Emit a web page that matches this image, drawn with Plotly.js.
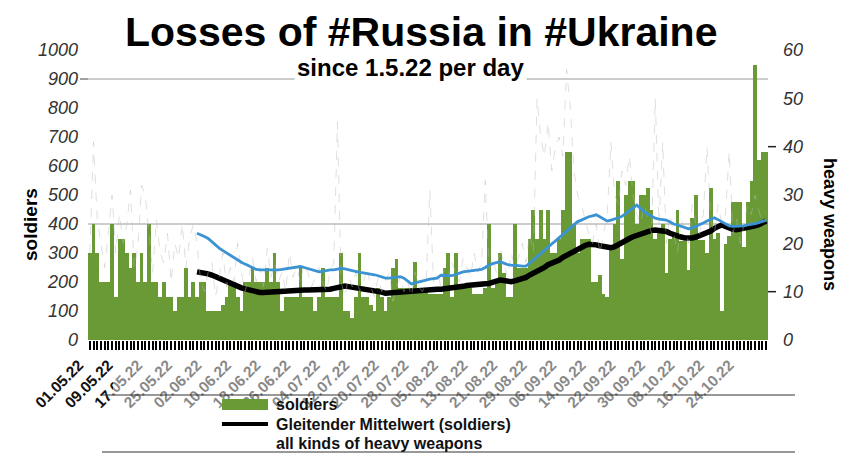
<!DOCTYPE html>
<html><head><meta charset="utf-8">
<script src="https://cdn.plot.ly/plotly-3.0.1.min.js"></script>
<style>html,body{margin:0;padding:0;background:#fff}#chart{width:850px;height:476px}</style>
</head><body><div id="chart"></div>
<script>
// ---- data ----
const startDate = [2022, 4, 1]; // 01.05.22 (month 0-based)
const dayCount = 184;
const labelEveryDays = 8;
const soldiers = [
  300,400,300,200,200,200,400,150,350,350,
  300,250,300,200,300,200,400,200,200,150,
  200,150,150,100,150,150,250,150,200,150,
  200,200,100,100,100,100,120,150,200,200,
  150,100,200,200,250,200,200,200,250,200,
  300,200,100,150,150,150,150,250,150,150,
  150,100,150,250,150,150,150,150,300,100,
  100,75,150,300,150,150,120,100,180,150,
  100,150,250,280,180,180,180,180,270,180,
  180,180,160,160,160,160,250,300,150,300,
  180,180,180,180,160,160,160,180,400,180,
  200,300,230,150,150,400,250,250,250,350,
  450,350,450,350,450,300,300,350,450,650,
  650,400,300,350,350,350,200,200,225,160,
  150,320,400,550,280,500,550,550,400,500,
  500,525,450,350,370,400,230,350,370,450,
  340,340,240,420,500,345,345,300,525,350,
  370,100,330,360,475,475,475,320,475,550,
  950,620,650,650
];
const heavyWeapons = [
  18,41,25,20,15,22,30,18,26,20,
  24,31,15,19,32,30,22,14,25,18,
  16,22,12,20,17,24,15,21,24,20,
  12,10,14,16,9,13,18,11,15,12,
  20,14,10,13,17,12,15,11,19,13,
  16,12,14,10,18,13,15,12,16,14,
  11,13,15,12,10,14,16,45,12,9,
  13,11,14,10,12,15,11,9,13,10,
  12,14,8,11,13,10,12,9,14,11,
  10,12,31,12,14,11,15,13,16,14,
  12,17,15,13,18,14,16,33,15,17,
  14,19,16,13,18,15,17,20,16,22,
  18,50,42,38,45,35,40,42,38,56,
  48,35,30,28,25,22,20,24,18,22,
  26,41,30,28,35,32,38,30,26,24,
  28,25,22,50,24,41,20,26,22,18,
  25,23,20,28,24,22,26,40,25,22,
  28,24,26,39,22,25,20,24,28,26,
  30,27,24,25
];
const avgStartIndex = 29;
const avgSoldiers = [
  235,234,232,228,224,218,213,208,203,198,
  191,184,180,176,172,169,166,164,164,165,
  166,168,169,170,170,170,171,172,172,172,
  172,172,171,171,172,173,175,178,182,186,
  186,184,182,180,179,178,177,175,172,170,
  165,161,162,164,167,168,169,170,171,172,
  173,174,176,176,176,175,175,176,177,178,
  180,182,185,188,190,191,192,193,194,195,
  199,203,207,205,202,201,204,207,210,216,
  224,230,236,241,250,260,264,268,276,285,
  292,298,305,312,322,326,330,330,328,325,
  322,320,318,322,330,338,345,350,356,361,
  366,371,376,378,379,378,376,374,368,362,
  358,355,352,350,352,355,360,364,368,376,
  385,392,397,392,385,382,380,382,385,388,
  390,394,398,404,410
];
const avgHeavy = [
  22.1,21.8,21.4,21.0,20.3,19.7,19.0,18.5,18.0,17.5,
  17.0,16.5,16.1,15.7,15.3,15.0,14.6,14.5,14.5,14.5,
  14.4,14.5,14.5,14.6,14.7,14.8,14.9,15.1,15.2,15.0,
  14.8,14.6,14.4,14.1,14.2,14.4,14.5,14.5,14.6,14.8,
  14.7,14.5,14.3,14.2,14.0,13.9,13.8,13.6,13.5,13.3,
  13.0,12.8,12.8,12.9,13.0,13.1,12.8,12.2,11.6,11.8,
  12.0,12.2,12.5,12.6,12.7,12.8,13.4,13.3,13.3,13.3,
  13.6,13.8,14.1,14.2,14.3,14.4,14.5,14.6,15.0,15.5,
  15.8,16.0,16.2,15.9,15.6,15.5,15.5,15.4,15.3,15.3,
  15.9,16.6,17.3,18.0,18.7,19.4,19.9,20.5,21.2,21.8,
  22.4,23.2,24.0,24.5,24.8,25.2,25.5,25.7,25.9,25.5,
  25.0,24.6,24.8,25.0,25.3,25.6,26.2,26.8,27.4,27.9,
  27.2,26.5,26.0,25.6,25.2,25.0,24.9,24.8,24.4,24.0,
  23.8,23.5,23.2,23.0,23.2,23.5,23.8,24.2,24.6,25.0,
  25.3,24.9,24.5,24.0,23.6,23.5,23.5,23.5,23.6,23.8,
  23.9,24.1,24.3,24.5,24.8
];
const leftGridValues = [900, 400];
const rightTickMarks = [40, 10];
const titleText = 'Losses of #Russia in #Ukraine';
const subtitleText = 'since 1.5.22 per day';
const legendLabels = ['soldiers', 'Gleitender Mittelwert (soldiers)', 'all kinds of heavy weapons'];
const leftAxisTitle = 'soldiers';
const rightAxisTitle = 'heavy weapons';

// ---- build ----
const DAY = 86400000;
const t0 = Date.UTC(startDate[0], startDate[1], startDate[2]);
function iso(ms){ return new Date(ms).toISOString().slice(0,10); }
const dates = [];
for (let i = 0; i < dayCount; i++) dates.push(iso(t0 + i*DAY));
const avgDates = dates.slice(avgStartIndex, avgStartIndex + avgSoldiers.length);

const GREEN = '#699a36';
const FONT = '"Liberation Sans", Arial, sans-serif';

const traces = [
  {type:'bar', x:dates, y:soldiers, marker:{color:GREEN, line:{width:0}}, yaxis:'y', hoverinfo:'skip'},
  {type:'scatter', mode:'lines', x:avgDates, y:avgSoldiers, line:{color:'#000', width:5.5}, yaxis:'y'},
  {type:'scatter', mode:'lines', x:dates, y:heavyWeapons, line:{color:'rgba(185,185,185,0.45)', width:1, dash:'dash'}, yaxis:'y2'},
  {type:'scatter', mode:'lines', x:avgDates, y:avgHeavy, line:{color:'#3b93d3', width:2.8}, yaxis:'y2'}
];

// pixel -> paper helpers (plot area: x 88..768, y 50..340)
const px = p => (p - 88) / 680;
const py = p => (340 - p) / 290;

const shapes = [];
leftGridValues.forEach(v => shapes.push({type:'line', xref:'paper', yref:'y', x0:0, x1:1, y0:v, y1:v, line:{color:'#9a9a9a', width:1}, layer:'below'}));
shapes.push({type:'line', xref:'paper', yref:'y', x0:px(80), x1:px(88), y0:leftGridValues[0], y1:leftGridValues[0], line:{color:'#444', width:1}, layer:'above'});
rightTickMarks.forEach(v => shapes.push({type:'line', xref:'paper', yref:'y2', x0:px(768), x1:px(776), y0:v, y1:v, line:{color:'#222', width:1.5}, layer:'above'}));
shapes.push(
  {type:'rect', xref:'paper', yref:'paper', x0:px(113), x1:px(795), y0:py(350), y1:py(452), fillcolor:'rgba(255,255,255,0.5)', line:{width:0}, layer:'above'},
  {type:'line', xref:'paper', yref:'paper', x0:px(102), x1:px(795), y0:py(395), y1:py(395), line:{color:'#333', width:1.2}, layer:'above'},
  {type:'line', xref:'paper', yref:'paper', x0:px(102), x1:px(795), y0:py(452), y1:py(452), line:{color:'#333', width:1.2}, layer:'above'},
  {type:'rect', xref:'paper', yref:'paper', x0:px(222), x1:px(268), y0:py(410), y1:py(399), fillcolor:GREEN, line:{width:0}, layer:'above'},
  {type:'line', xref:'paper', yref:'paper', x0:px(222), x1:px(268), y0:py(424), y1:py(424), line:{color:'#000', width:4}, layer:'above'}
);

const annotations = [
  {xref:'paper', yref:'paper', x:px(421), y:py(32), text:'<b>'+titleText+'</b>', showarrow:false, xanchor:'center', yanchor:'middle', font:{size:41, color:'#000', family:FONT}},
  {xref:'paper', yref:'paper', x:px(410), y:py(67), text:'<b>'+subtitleText+'</b>', showarrow:false, xanchor:'center', yanchor:'middle', bgcolor:'#fff', borderpad:2, font:{size:24, color:'#000', family:FONT}},
  {xref:'paper', yref:'paper', x:px(30), y:py(225), text:'<b>'+leftAxisTitle+'</b>', textangle:-90, showarrow:false, xanchor:'center', yanchor:'middle', font:{size:19, color:'#000', family:FONT}},
  {xref:'paper', yref:'paper', x:px(830), y:py(225), text:'<b>'+rightAxisTitle+'</b>', textangle:90, showarrow:false, xanchor:'center', yanchor:'middle', font:{size:18, color:'#000', family:FONT}},
  {xref:'paper', yref:'paper', x:px(274), y:py(405), text:'<b>'+legendLabels[0]+'</b>', showarrow:false, xanchor:'left', yanchor:'middle', font:{size:16, color:'#111', family:FONT}},
  {xref:'paper', yref:'paper', x:px(274), y:py(424), text:'<b>'+legendLabels[1]+'</b>', showarrow:false, xanchor:'left', yanchor:'middle', font:{size:16, color:'#111', family:FONT}},
  {xref:'paper', yref:'paper', x:px(274), y:py(443), text:'<b>'+legendLabels[2]+'</b>', showarrow:false, xanchor:'left', yanchor:'middle', font:{size:16, color:'#111', family:FONT}}
];

const layout = {
  width:850, height:476,
  margin:{l:88, r:82, t:50, b:136},
  paper_bgcolor:'#fff', plot_bgcolor:'#fff',
  showlegend:false, bargap:0,
  font:{family:FONT, color:'#222'},
  xaxis:{
    type:'date',
    range:[t0 - DAY/2, t0 + (dayCount-1)*DAY + DAY/2],
    tick0:dates[0], dtick:labelEveryDays*DAY, tickformat:'%d.%m.%y', tickangle:-45,
    ticks:'outside', ticklen:9, tickwidth:2, tickcolor:'#000',
    ticklabelshift:-11,
    tickfont:{size:15.5, weight:'bold', color:'#111', family:FONT},
    showgrid:false, zeroline:false, showline:false,
    minor:{tick0:dates[0], dtick:DAY, ticks:'outside', ticklen:9, tickwidth:2, tickcolor:'#000', showgrid:false}
  },
  yaxis:{
    range:[0,1000], dtick:100, showgrid:false, zeroline:false, ticks:'',
    tickfont:{size:18, style:'italic', color:'#333', family:FONT}, ticklabelstandoff:9
  },
  yaxis2:{
    overlaying:'y', side:'right', range:[0,60], dtick:10, showgrid:false, zeroline:false, ticks:'',
    tickfont:{size:18, style:'italic', color:'#333', family:FONT}, ticklabelstandoff:14
  },
  shapes:shapes,
  annotations:annotations
};

Plotly.newPlot('chart', traces, layout, {displayModeBar:false, staticPlot:true});
</script>
</body></html>
